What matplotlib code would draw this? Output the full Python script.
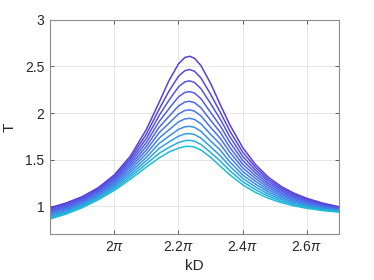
import numpy as np
import matplotlib
matplotlib.use('Agg')
import matplotlib.pyplot as plt
from matplotlib.colors import LinearSegmentedColormap

# kD in units of pi
kd = [1.80, 1.85, 1.90, 1.95, 2.00, 2.05, 2.10, 2.14, 2.17, 2.20, 2.22, 2.235, 2.25,
      2.27, 2.30, 2.33, 2.36, 2.40, 2.44, 2.48, 2.52, 2.56, 2.60, 2.65, 2.70]

# T for each curve, top (largest peak) to bottom
t0 = [0.984, 1.034, 1.102, 1.198, 1.335, 1.536, 1.823, 2.116, 2.344, 2.527, 2.596, 2.609, 2.588,
      2.510, 2.320, 2.093, 1.874, 1.631, 1.447, 1.311, 1.212, 1.139, 1.084, 1.032, 0.994]
t1 = [0.972, 1.022, 1.090, 1.185, 1.318, 1.511, 1.773, 2.042, 2.232, 2.394, 2.455, 2.467, 2.448,
      2.377, 2.203, 2.011, 1.808, 1.582, 1.417, 1.288, 1.195, 1.125, 1.073, 1.024, 0.988]
t2 = [0.960, 1.010, 1.078, 1.172, 1.302, 1.487, 1.727, 1.974, 2.135, 2.280, 2.335, 2.345, 2.328,
      2.262, 2.103, 1.936, 1.747, 1.536, 1.387, 1.266, 1.177, 1.112, 1.063, 1.016, 0.982]
t3 = [0.947, 0.998, 1.066, 1.159, 1.285, 1.462, 1.683, 1.909, 2.045, 2.173, 2.221, 2.230, 2.214,
      2.154, 2.008, 1.864, 1.688, 1.492, 1.357, 1.243, 1.160, 1.098, 1.052, 1.008, 0.977]
t4 = [0.935, 0.986, 1.054, 1.146, 1.269, 1.437, 1.641, 1.847, 1.962, 2.075, 2.118, 2.126, 2.111,
      2.057, 1.923, 1.795, 1.632, 1.451, 1.327, 1.221, 1.142, 1.085, 1.041, 1.000, 0.971]
t5 = [0.923, 0.975, 1.043, 1.133, 1.252, 1.413, 1.602, 1.789, 1.889, 1.989, 2.027, 2.034, 2.020,
      1.970, 1.847, 1.730, 1.580, 1.412, 1.297, 1.198, 1.125, 1.071, 1.031, 0.992, 0.965]
t6 = [0.911, 0.963, 1.031, 1.120, 1.235, 1.388, 1.563, 1.731, 1.818, 1.904, 1.937, 1.943, 1.931,
      1.885, 1.772, 1.666, 1.528, 1.373, 1.267, 1.175, 1.108, 1.057, 1.020, 0.984, 0.959]
t7 = [0.899, 0.951, 1.019, 1.107, 1.219, 1.363, 1.524, 1.674, 1.750, 1.824, 1.852, 1.857, 1.846,
      1.804, 1.701, 1.603, 1.477, 1.335, 1.237, 1.153, 1.090, 1.044, 1.009, 0.976, 0.953]
t8 = [0.886, 0.939, 1.007, 1.094, 1.202, 1.338, 1.488, 1.620, 1.688, 1.750, 1.775, 1.779, 1.769,
      1.731, 1.637, 1.543, 1.429, 1.299, 1.207, 1.130, 1.073, 1.030, 0.998, 0.968, 0.948]
t9 = [0.874, 0.927, 0.995, 1.081, 1.186, 1.314, 1.453, 1.568, 1.630, 1.683, 1.703, 1.707, 1.697,
      1.663, 1.577, 1.485, 1.382, 1.263, 1.177, 1.108, 1.055, 1.017, 0.988, 0.960, 0.942]
t10 = [0.862, 0.915, 0.983, 1.068, 1.169, 1.289, 1.419, 1.518, 1.580, 1.623, 1.640, 1.643, 1.634,
       1.603, 1.525, 1.430, 1.337, 1.230, 1.147, 1.085, 1.038, 1.003, 0.977, 0.952, 0.936]

curves = [t0, t1, t2, t3, t4, t5, t6, t7, t8, t9, t10]

xticks = [2.0, 2.2, 2.4, 2.6]
xticklabels = [r'2$\pi$', r'2.2$\pi$', r'2.4$\pi$', r'2.6$\pi$']
yticks = [1, 1.5, 2, 2.5, 3]
yticklabels = ['1', '1.5', '2', '2.5', '3']

plt.rcParams['font.family'] = ['Liberation Sans', 'DejaVu Sans']
plt.rcParams['mathtext.fontset'] = 'custom'
plt.rcParams['mathtext.it'] = 'Liberation Sans:italic'
plt.rcParams['mathtext.rm'] = 'Liberation Sans'

cmap = LinearSegmentedColormap.from_list('pb', ['#5a3dd6', '#4a73ee', '#1cbcd6'])

fig = plt.figure(figsize=(3.74, 2.8), dpi=100)
ax = fig.add_axes([0.134, 0.164, 0.772, 0.765])

x = np.array(kd) * np.pi
for i, c in enumerate(curves):
    ax.plot(x, c, color=cmap(i / (len(curves) - 1)), lw=1.1)

ax.set_xlim(1.8 * np.pi, 2.7 * np.pi)
ax.set_ylim(0.7, 3)
ax.set_xticks(np.array(xticks) * np.pi)
ax.set_xticklabels(xticklabels)
ax.set_yticks(yticks)
ax.set_yticklabels(yticklabels)

ax.grid(True, color='#dcdcdc', lw=0.5)
ax.set_axisbelow(True)
ax.tick_params(direction='in', length=3, width=0.5, colors='#262626',
               labelsize=10, top=True, right=True, pad=4)
for s in ax.spines.values():
    s.set_color('#8c8c8c')
    s.set_linewidth(0.8)

ax.set_xlabel('kD', fontsize=11, color='#262626', labelpad=4)
ax.set_ylabel('T', fontsize=11, color='#262626', labelpad=6)

fig.savefig('out.png', dpi=100)
